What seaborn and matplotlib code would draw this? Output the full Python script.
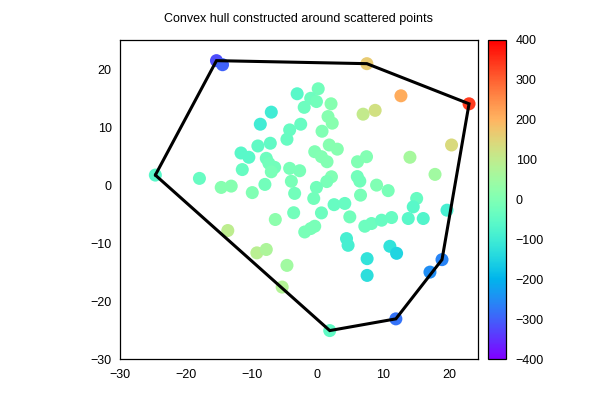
import numpy as np
import pandas as pd
import matplotlib
matplotlib.use("Agg")
import matplotlib.pyplot as plt
import seaborn as sns
from matplotlib.colors import Normalize
from matplotlib.cm import ScalarMappable

# ---- data ----
x_vals = [-15.34, -14.42, 7.51, 23.04, 12.69, -3.08, 0.12, -1.02, -0.15, -2.01,
          2.07, -7.01, -8.68, 1.61, 2.25, 0.70, -2.54, -4.22, -4.63, -7.16,
          -9.05, -11.61, -10.42, -7.77, -7.37, -6.50, -7.01, -11.42, -4.22, -2.70,
          -3.96, -0.41, 0.61, 1.46, 1.80, 3.02, 2.13, 1.42, -0.15, -7.98,
          -9.90, -3.46, -0.56, 2.53, 4.16, 0.61, -3.61, -6.40, -0.41, -1.93,
          -1.02, 4.42, 4.66, -9.20, -7.77, -4.63, -5.36, -13.62, -17.93, -14.62,
          -13.10, -24.63, 6.06, 6.44, 8.99, 10.75, 6.55, 4.92, 7.20, 8.22,
          9.75, 11.27, 13.80, 16.08, 15.08, 14.56, 19.69, 11.01, 12.03, 7.55,
          7.55, 18.93, 17.10, 11.92, 1.87, 14.06, 17.87, 20.38, 6.94, 8.77,
          6.09, 7.46]
y_vals = [21.44, 20.74, 20.92, 14.00, 15.38, 15.73, 16.59, 14.95, 14.39, 13.39,
          14.00, 12.56, 10.48, 11.80, 10.66, 9.27, 10.48, 9.50, 7.89, 7.20,
          6.73, 5.52, 4.78, 4.60, 3.74, 3.04, 2.28, 2.66, 2.87, 2.46,
          0.64, 5.74, 4.88, 4.01, 6.90, 6.18, 1.42, 0.59, -0.42, 0.10,
          -1.31, -1.45, -2.32, -3.39, -3.18, -4.81, -4.78, -5.95, -7.11, -8.10,
          -7.51, -9.24, -10.40, -11.70, -11.12, -13.86, -17.60, -7.85, 1.14, -0.42,
          -0.19, 1.71, 1.45, 0.67, -0.02, -0.97, -1.75, -5.50, -7.11, -6.64,
          -6.07, -5.61, -5.78, -5.78, -2.32, -3.77, -4.34, -10.57, -11.78, -12.70,
          -15.59, -12.87, -15.02, -23.08, -25.10, 4.78, 1.83, 6.90, 12.21, 12.87,
          4.01, 4.88]
c_vals = [-320, -300, 165, 340, 210, -60, -20, -30, -20, -30,
          10, -100, -100, 10, 15, 0, -40, -40, -40, -50,
          -50, -60, -60, -30, -20, -20, -10, -40, -10, -10,
          -10, 0, 5, 5, 10, 10, 0, -10, -20, -20,
          0, -20, -20, -40, -40, -30, -20, 20, -10, -10,
          -10, -90, -90, 90, 70, 50, 80, 95, -40, 10,
          10, -60, -20, -20, 0, -10, -10, -20, -30, -30,
          -40, -40, -60, -70, -40, -60, -90, -120, -150, -120,
          -130, -260, -250, -280, -50, 60, 50, 140, 105, 125,
          0, 5]

title = "Convex hull constructed around scattered points"
x_ticks = [-30, -20, -10, 0, 10, 20]
y_ticks = [-30, -20, -10, 0, 10, 20]
cbar_ticks = [-400, -300, -200, -100, 0, 100, 200, 300, 400]
c_min, c_max = -400, 400


def convex_hull(points):
    pts = sorted(set(points))
    def cross(o, a, b):
        return (a[0] - o[0]) * (b[1] - o[1]) - (a[1] - o[1]) * (b[0] - o[0])
    lower = []
    for p in pts:
        while len(lower) >= 2 and cross(lower[-2], lower[-1], p) <= 0:
            lower.pop()
        lower.append(p)
    upper = []
    for p in reversed(pts):
        while len(upper) >= 2 and cross(upper[-2], upper[-1], p) <= 0:
            upper.pop()
        upper.append(p)
    return lower[:-1] + upper[:-1]


sns.set_style("white")
plt.rcParams['font.family'] = ['Liberation Sans', 'DejaVu Sans']
plt.rcParams['axes.unicode_minus'] = True

df = pd.DataFrame({"x": x_vals, "y": y_vals, "v": c_vals})
norm = Normalize(vmin=c_min, vmax=c_max)

fig = plt.figure(figsize=(6, 4), dpi=100)
ax = fig.add_axes([120 / 600, 1 - 359 / 400, (478 - 120) / 600, (359 - 40) / 400])
cax = fig.add_axes([488 / 600, 1 - 359 / 400, 18 / 600, (359 - 40) / 400])

sns.scatterplot(data=df, x="x", y="y", hue="v", palette="rainbow", hue_norm=norm,
                s=88, linewidth=0, legend=False, ax=ax, zorder=2)

hull = convex_hull(list(zip(x_vals, y_vals)))
hx = [p[0] for p in hull] + [hull[0][0]]
hy = [p[1] for p in hull] + [hull[0][1]]
ax.plot(hx, hy, color="black", lw=2.2, zorder=3, solid_joinstyle="miter")

ax.set_xlim(-30, 24.4)
ax.set_ylim(-30, 25)
ax.set_xticks(x_ticks)
ax.set_yticks(y_ticks)
ax.set_xlabel("")
ax.set_ylabel("")
for sp in ax.spines.values():
    sp.set_color("black")
    sp.set_linewidth(0.9)
ax.tick_params(axis="x", length=0, labelsize=9, pad=7, colors="black")
ax.tick_params(axis="y", length=0, labelsize=9, pad=6, colors="black")
ax.set_title(title, fontsize=9, pad=13, color="black")

cb = fig.colorbar(ScalarMappable(norm=norm, cmap="rainbow"), cax=cax, ticks=cbar_ticks)
cb.outline.set_edgecolor("black")
cb.outline.set_linewidth(0.9)
cax.tick_params(length=0, labelsize=9, pad=7, colors="black")

fig.savefig("out.png", dpi=100)
